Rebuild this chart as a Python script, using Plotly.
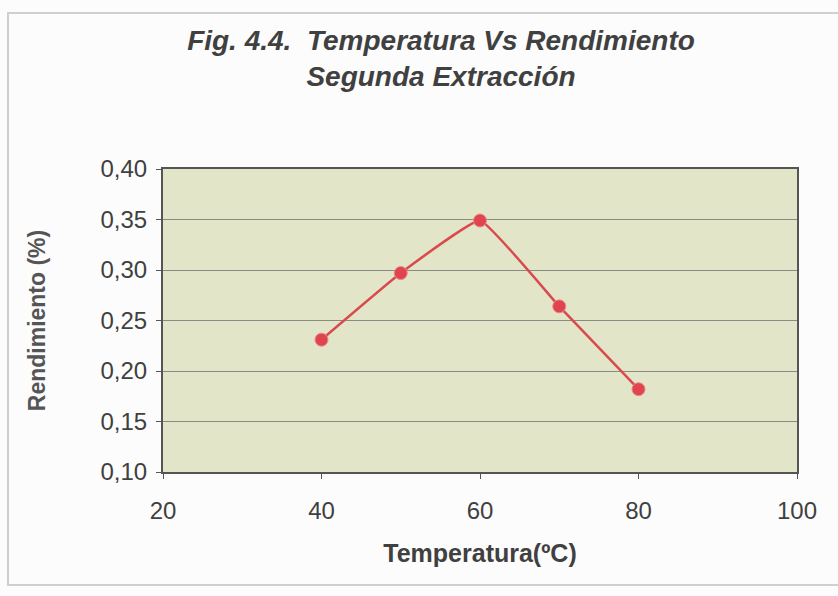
import plotly.graph_objects as go

temperatura = [40, 50, 60, 70, 80]
rendimiento = [0.231, 0.297, 0.349, 0.264, 0.182]
x_ticks = [20, 40, 60, 80, 100]
y_ticks = [0.10, 0.15, 0.20, 0.25, 0.30, 0.35, 0.40]

FONT = "Liberation Sans, Arial, sans-serif"
TXT = "#404040"

fig = go.Figure()
fig.add_trace(go.Scatter(
    x=temperatura, y=rendimiento, mode="lines+markers",
    line=dict(color="#d94a50", width=2.5, shape="spline", smoothing=0.3),
    marker=dict(color="#e0454d", size=13, line=dict(color="#e88a8e", width=1)),
    showlegend=False,
))

fig.update_layout(
    width=838, height=596,
    margin=dict(l=163, r=41, t=169, b=124),
    paper_bgcolor="#fcfcfc",
    plot_bgcolor="#e2e5c7",
    separators=",.",
    font=dict(family=FONT, color=TXT),
    title=dict(
        text="<b><i>Fig. 4.4.  Temperatura Vs Rendimiento<br>Segunda Extracción</i></b>",
        x=441/838, xanchor="center", y=1 - 50/596, yanchor="middle",
        font=dict(size=28, family=FONT, color=TXT),
    ),
    xaxis=dict(
        range=[20, 100], tickvals=x_ticks, ticks="outside", ticklen=5,
        tickcolor="#555", showgrid=False, zeroline=False,
        showline=True, linecolor="#555", linewidth=2, mirror=True,
        tickfont=dict(size=24, color=TXT), ticklabelstandoff=11,
        title=dict(text="<b>Temperatura(ºC)</b>", font=dict(size=25, color=TXT), standoff=22),
    ),
    yaxis=dict(
        range=[0.10, 0.40], tickvals=y_ticks, tickformat=".2f", ticks="outside", ticklen=5,
        tickcolor="#555", showgrid=True, gridcolor="#8a8a82", gridwidth=1, zeroline=False,
        showline=True, linecolor="#555", linewidth=2, mirror=True,
        tickfont=dict(size=24, color=TXT), ticklabelstandoff=4,
        title=dict(text="<b>Rendimiento (%)</b>", font=dict(size=23, color="#555"), standoff=48),
    ),
)

fig.add_shape(type="rect", xref="paper", yref="paper",
              x0=-155/634, x1=1.1, y0=-(585-472)/303, y1=1 + (169-13)/303,
              line=dict(color="#cfcfcf", width=2), fillcolor="rgba(0,0,0,0)", layer="below")

fig.write_html("out.html")
